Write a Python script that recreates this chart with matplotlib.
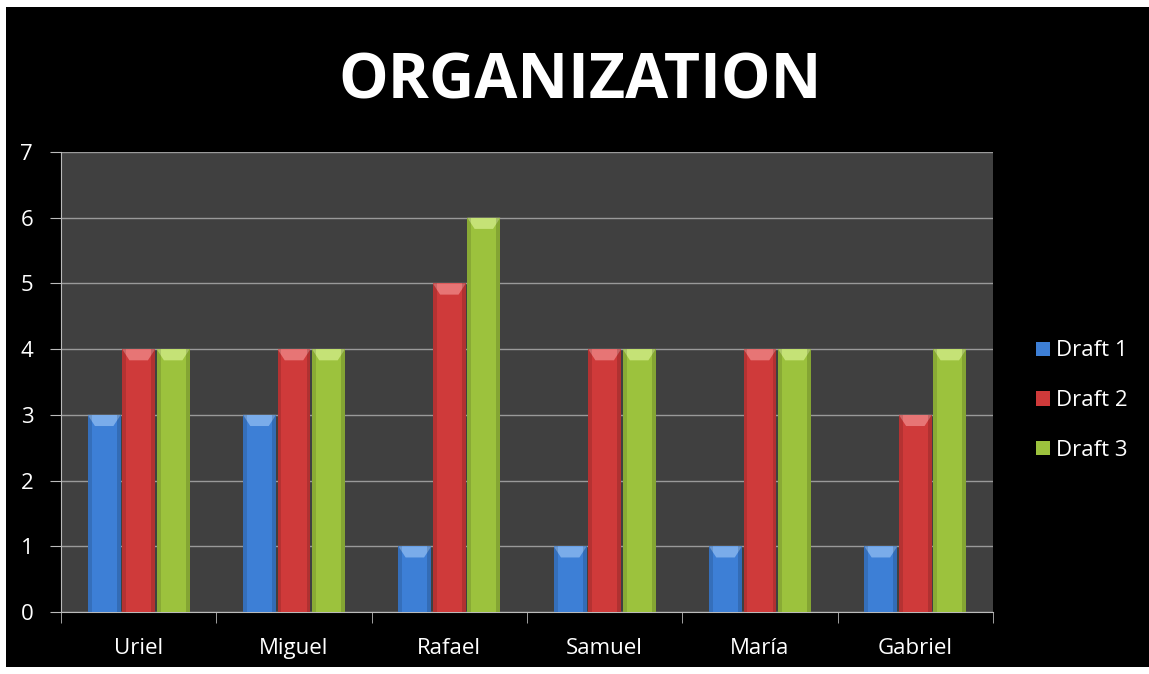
import numpy as np
import matplotlib
matplotlib.use("Agg")
import matplotlib.pyplot as plt
from matplotlib.patches import Rectangle, Polygon

plt.rcParams["font.family"] = ["Open Sans", "DejaVu Sans"]

names = ["Uriel", "Miguel", "Rafael", "Samuel", "María", "Gabriel"]
series = ["Draft 1", "Draft 2", "Draft 3"]
draft1 = [3, 3, 1, 1, 1, 1]
draft2 = [4, 4, 5, 4, 4, 3]
draft3 = [4, 4, 6, 4, 4, 4]
yticks = [0, 1, 2, 3, 4, 5, 6, 7]

COLORS = ["#3d7fd6", "#cf3a3a", "#9cc23d"]
LIGHT = ["#8fbcf2", "#f08a8a", "#d4ee8a"]

fig = plt.figure(figsize=(11.49, 6.74), dpi=100, facecolor="white")
# black slide area inside a thin white border
fig.patches.append(Rectangle((6 / 1149, 0.01), 1 - 6 / 1149, 1 - 0.01 - 7 / 674,
                             transform=fig.transFigure, facecolor="black",
                             edgecolor="none", zorder=-5))

ax = fig.add_axes([61 / 1149, 1 - 612 / 674, (993 - 61) / 1149, (612 - 152) / 674])
ax.set_facecolor("#404040")

x = np.arange(len(names))
w = 0.212
offsets = [-0.222, 0, 0.222]
for vals, off, c, lc, lab in zip([draft1, draft2, draft3], offsets, COLORS, LIGHT, series):
    ax.bar(x + off, vals, w, color=c, label=lab, zorder=3)
    # bevel highlight on the top of each bar
    for xi, v in zip(x + off, vals):
        l, r = xi - w / 2, xi + w / 2
        ax.add_patch(Polygon([(l, v), (r, v), (r - w * 0.22, v - 0.17), (l + w * 0.22, v - 0.17)],
                             closed=True, facecolor=lc, edgecolor="none", alpha=0.75, zorder=4))
        ax.add_patch(Rectangle((l, 0), w * 0.12, v, facecolor="black", alpha=0.12,
                               edgecolor="none", zorder=4))
        ax.add_patch(Rectangle((r - w * 0.12, 0), w * 0.12, v, facecolor="black", alpha=0.15,
                               edgecolor="none", zorder=4))

ax.set_xlim(-0.5, len(names) - 0.5)
ax.set_ylim(0, 7)
ax.set_yticks(yticks)
ax.grid(axis="y", color="#9a9a9a", linewidth=1, zorder=1)
ax.set_axisbelow(True)
ax.set_xticks(x)
ax.set_xticklabels(names)
ax.set_xticks(np.arange(len(names) + 1) - 0.5, minor=True)
ax.tick_params(axis="x", which="major", length=0, pad=19, colors="white", labelsize=16)
ax.tick_params(axis="x", which="minor", length=8, color="#bbbbbb", direction="out")
ax.tick_params(axis="y", length=8, color="#bbbbbb", colors="white", labelsize=16, pad=12)
for s in ["top", "right"]:
    ax.spines[s].set_visible(False)
for s in ["left", "bottom"]:
    ax.spines[s].set_color("#bbbbbb")

fig.text(0.505, 0.878, "ORGANIZATION", color="white", fontsize=45, fontweight="bold",
         ha="center", va="center")

leg = ax.legend(loc="center left", bbox_to_anchor=(1.025, 0.459), frameon=False,
                fontsize=16, labelcolor="white", handlelength=0.6, handleheight=0.6,
                handletextpad=0.3, labelspacing=1.3)

fig.savefig("out.png", dpi=100, facecolor=fig.get_facecolor())
